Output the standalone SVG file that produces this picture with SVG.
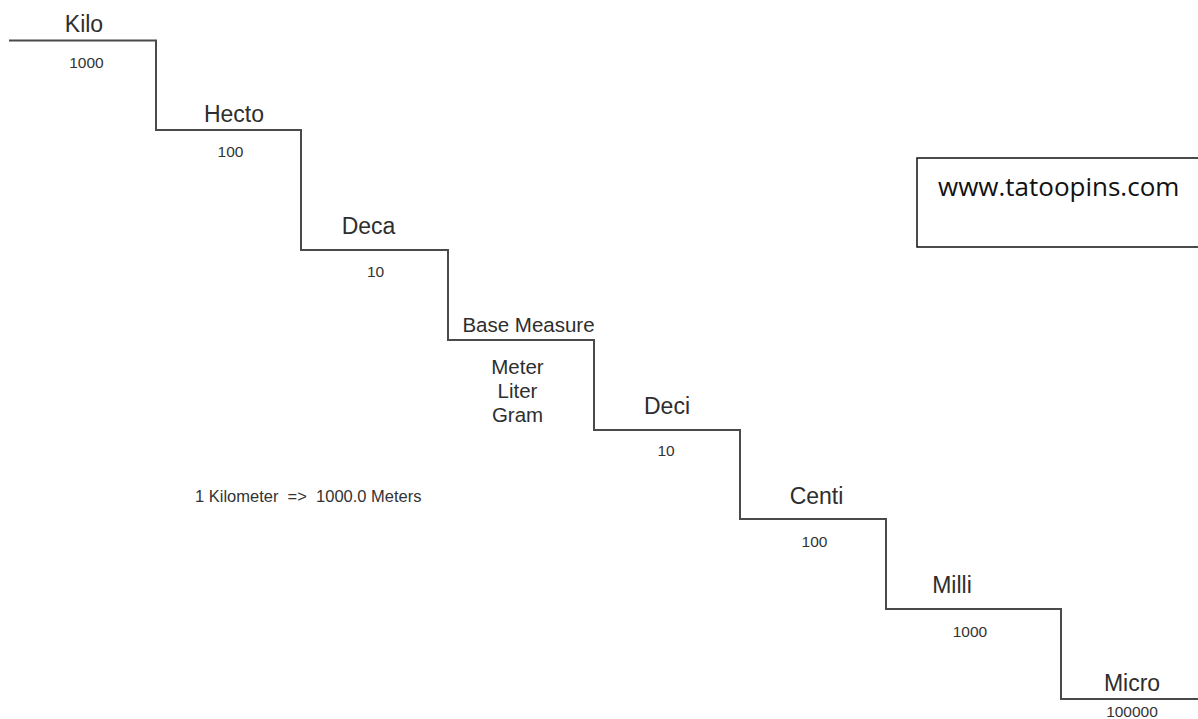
<svg xmlns="http://www.w3.org/2000/svg" width="1198" height="719" viewBox="0 0 1198 719">
  <style>
    .step { fill: none; stroke: #4a4a4a; stroke-width: 2; }
    .name { font-family: "Liberation Sans", Arial, sans-serif; font-size: 23px; fill: #2e2e2e; text-anchor: middle; }
    .sub { font-family: "Liberation Sans", Arial, sans-serif; font-size: 20.5px; fill: #2e2e2e; text-anchor: middle; }
    .num { font-family: "Liberation Sans", Arial, sans-serif; font-size: 15.5px; fill: #333333; text-anchor: middle; }
    .note { font-family: "Liberation Sans", Arial, sans-serif; font-size: 16.5px; fill: #333333; white-space: pre; }
    .url { font-family: "Open Sans", "Liberation Sans", sans-serif; font-size: 26px; fill: #111111; }
  </style>
  <rect width="1198" height="719" fill="#ffffff"/>

  <!-- staircase of metric prefixes -->
  <g id="connectors">
    <path class="step" d="M9 40.5 H156 V130 H301 V250 H448 V340 H594 V430 H740 V519 H886 V609 H1061 V699 H1198"/>
  </g>

  <g id="kilo">
    <text class="name" x="84" y="32">Kilo</text>
    <text class="num" x="86.5" y="68">1000</text>
  </g>
  <g id="hecto">
    <text class="name" x="234" y="122">Hecto</text>
    <text class="num" x="230.5" y="157">100</text>
  </g>
  <g id="deca">
    <text class="name" x="368.5" y="234">Deca</text>
    <text class="num" x="375.5" y="277">10</text>
  </g>
  <g id="base">
    <text class="sub" x="528.5" y="332">Base Measure</text>
    <text class="sub" x="517.5" y="374">Meter</text>
    <text class="sub" x="517.5" y="398">Liter</text>
    <text class="sub" x="517.5" y="422">Gram</text>
  </g>
  <g id="deci">
    <text class="name" x="667" y="414">Deci</text>
    <text class="num" x="666" y="456">10</text>
  </g>
  <g id="centi">
    <text class="name" x="816.5" y="504">Centi</text>
    <text class="num" x="814.5" y="547">100</text>
  </g>
  <g id="milli">
    <text class="name" x="952" y="593">Milli</text>
    <text class="num" x="970" y="637">1000</text>
  </g>
  <g id="micro">
    <text class="name" x="1132" y="691">Micro</text>
    <text class="num" x="1132" y="716.5">100000</text>
  </g>

  <g id="example">
    <text class="note" x="195" y="502" xml:space="preserve">1 Kilometer  =&gt;  1000.0 Meters</text>
  </g>

  <g id="site">
    <path d="M1200 158 H917 V247 H1200" fill="none" stroke="#111111" stroke-width="1.5"/>
    <text class="url" x="938" y="196">www.tatoopins.com</text>
  </g>
</svg>
